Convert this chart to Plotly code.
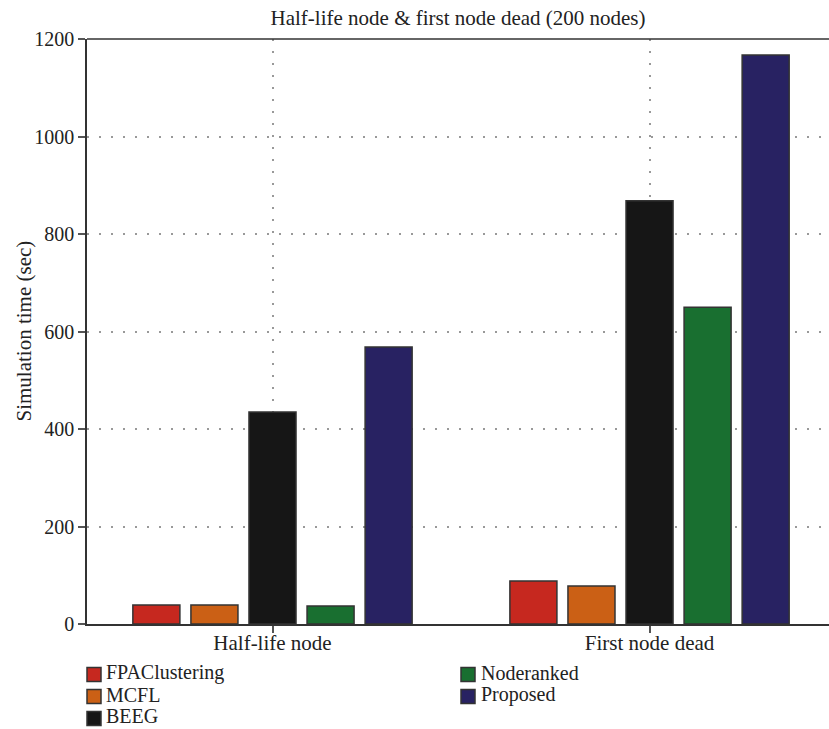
import plotly.graph_objects as go

# Data
categories = ["Half-life node", "First node dead"]
series_names = ["FPAClustering", "MCFL", "BEEG", "Noderanked", "Proposed"]
fpaclustering = [39, 88]
mcfl = [39, 78]
beeg = [435, 868]
noderanked = [37, 650]
proposed = [568, 1167]
y_ticks = [0, 200, 400, 600, 800, 1000, 1200]

series_values = [fpaclustering, mcfl, beeg, noderanked, proposed]
colors = ["#C6281F", "#CB6015", "#161616", "#196F30", "#282262"]

FONT = "Liberation Serif"
TEXT = "#222222"

# Plot-area geometry in pixels (used to place the legend below the axes)
W, H = 829, 729
ML, MR, MT, MB = 87, 0, 39, 105
PW, PH = W - ML - MR, H - MT - MB


def px_x(x):
    return (x - ML) / PW


def px_y(y):
    return (H - MB - y) / PH


fig = go.Figure()
for name, vals, col in zip(series_names, series_values, colors):
    fig.add_trace(go.Bar(
        x=categories, y=vals, name=name, showlegend=False,
        marker=dict(color=col, line=dict(color="#333333", width=1.5)),
    ))

# Two-column legend: three entries in the first column, two in the second
legend_cols = [(87, 105), (461, 480)]
row_step = 22
shapes = []
annotations = []
for i, (name, col) in enumerate(zip(series_names, colors)):
    c, r = (0, i) if i < 3 else (1, i - 3)
    sx, tx = legend_cols[c]
    cy = 674.5 + r * row_step
    shapes.append(dict(type="rect", xref="paper", yref="paper",
                       x0=px_x(sx), x1=px_x(sx + 14),
                       y0=px_y(cy - 7), y1=px_y(cy + 7),
                       fillcolor=col, line=dict(color="#333333", width=1.5)))
    annotations.append(dict(text=name, xref="paper", yref="paper",
                            x=px_x(tx), y=px_y(cy - 2), xanchor="left",
                            yanchor="middle", showarrow=False, borderpad=0,
                            font=dict(family=FONT, size=20, color=TEXT)))

# y-axis title
annotations.append(dict(text="Simulation time (sec)", xref="paper",
                        yref="paper", x=px_x(23), y=0.5, xanchor="center",
                        yanchor="middle", textangle=-90, showarrow=False,
                        font=dict(family=FONT, size=21, color=TEXT)))

# top border of the plot area
shapes.append(dict(type="line", xref="paper", yref="paper", x0=0, x1=1,
                   y0=1, y1=1, line=dict(color="#333333", width=1.5)))

fig.update_layout(
    width=W, height=H,
    margin=dict(l=ML, r=MR, t=MT, b=MB),
    paper_bgcolor="white", plot_bgcolor="white",
    font=dict(family=FONT, color=TEXT, size=20),
    barmode="group", bargap=0.23, bargroupgap=0.19,
    title=dict(text="Half-life node & first node dead (200 nodes)",
               x=0.5525, xanchor="center", y=0.976, yanchor="middle",
               font=dict(family=FONT, size=21, color=TEXT)),
    showlegend=False,
    shapes=shapes,
    annotations=annotations,
)

fig.update_xaxes(
    range=[-0.492, 1.476],
    showline=True, linecolor="#333333", linewidth=1.5,
    ticks="outside", ticklen=7, tickcolor="#555555", tickwidth=1.5,
    ticklabelstandoff=-8,
    showgrid=True, gridcolor="#999999", griddash="1.5px,10.5px", gridwidth=1.5,
    tickfont=dict(family=FONT, size=21, color=TEXT),
)
fig.update_yaxes(
    range=[0, 1200], tickvals=y_ticks,
    showline=True, linecolor="#333333", linewidth=1.5,
    ticks="outside", ticklen=7, tickcolor="#555555", tickwidth=1.5,
    showgrid=True, gridcolor="#999999", griddash="1.5px,10.5px", gridwidth=1.5,
    zeroline=False,
    tickfont=dict(family=FONT, size=20, color=TEXT),
)

fig.write_html("out.html")
